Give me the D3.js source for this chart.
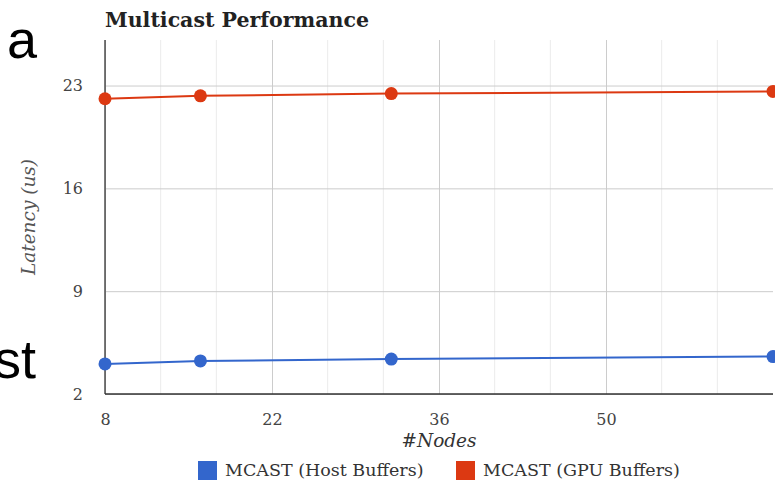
<!DOCTYPE html>
<html>
<head>
<meta charset="utf-8">
<script src="https://cdn.jsdelivr.net/npm/d3@7"></script>
<style>
  body { margin: 0; background: #fff; }
  .chart-font { font-family: "DejaVu Serif", Georgia, serif; }
  .slide-text { font-family: "Liberation Sans", Arial, sans-serif; }
</style>
</head>
<body>
<div id="chart"></div>
<script>
// data
var nodes = [8, 16, 32, 64];
var hostLatency = [4.05, 4.25, 4.38, 4.55];
var gpuLatency = [22.1, 22.3, 22.45, 22.6];
var seriesNames = ["MCAST (Host Buffers)", "MCAST (GPU Buffers)"];
var seriesColors = ["#3366cc", "#dc3912"];
var xTicks = [8, 22, 36, 50];
var yTicks = [2, 9, 16, 23];

var W = 775, H = 480;
var margin = {
    top: 40,
    bottom: 86,
    right: 2,
    left: 105
};
var width = W - margin.left - margin.right;
var height = H - margin.top - margin.bottom;

var svg = d3.select('#chart')
    .append('svg')
    .attr('width', W)
    .attr('height', H);

var g = svg.append('g')
    .attr('class', 'chart-font')
    .attr('transform', 'translate(' + margin.left + ',' + margin.top + ')');

var x = d3.scaleLinear().domain([8, 64]).range([0, width]);
var y = d3.scaleLinear().domain([2, 26.1]).range([height, 0]);

// minor vertical gridlines (thirds between the labelled ticks)
var minor = [];
xTicks.concat([64]).forEach(function(t, i) {
    if (i == 0) return;
    var prev = xTicks[i - 1];
    minor.push(prev + (t - prev) / 3, prev + 2 * (t - prev) / 3);
});

g.selectAll('.minor')
    .data(minor)
    .enter().append('line')
    .attr('class', 'minor')
    .attr('x1', function(d) { return x(d); })
    .attr('x2', function(d) { return x(d); })
    .attr('y1', 0)
    .attr('y2', height)
    .attr('stroke', '#ebebeb')
    .attr('stroke-width', 1);

// major gridlines
var xAxis = d3.axisBottom(x).tickValues(xTicks).tickSize(-height).tickFormat(d3.format('d'));
var yAxis = d3.axisLeft(y).tickValues(yTicks).tickSize(-width).tickFormat(d3.format('d'));

var gx = g.append('g')
    .attr('class', 'x axis')
    .attr('transform', 'translate(0,' + height + ')')
    .call(xAxis);
gx.select('.domain').remove();
gx.selectAll('line').attr('stroke', '#cccccc');
gx.selectAll('text')
    .attr('y', 20)
    .attr('fill', '#444')
    .style('font-size', '16px')
    .style('font-family', '"DejaVu Serif", Georgia, serif');

var gy = g.append('g')
    .attr('class', 'y axis')
    .call(yAxis);
gy.select('.domain').remove();
gy.selectAll('line').attr('stroke', '#cccccc');
gy.selectAll('text')
    .attr('x', -22)
    .attr('fill', '#444')
    .style('font-size', '16px')
    .style('font-family', '"DejaVu Serif", Georgia, serif');

// axis baselines
g.append('line')
    .attr('x1', 0).attr('x2', 0)
    .attr('y1', 0).attr('y2', height)
    .attr('stroke', '#333').attr('stroke-width', 1.3);
g.append('line')
    .attr('x1', 0).attr('x2', width)
    .attr('y1', height).attr('y2', height)
    .attr('stroke', '#333').attr('stroke-width', 1.3);

// series
var series = [hostLatency, gpuLatency];
var line = d3.line()
    .x(function(d, i) { return x(nodes[i]); })
    .y(function(d) { return y(d); });

series.forEach(function(vals, s) {
    g.append('path')
        .datum(vals)
        .attr('d', line)
        .attr('fill', 'none')
        .attr('stroke', seriesColors[s])
        .attr('stroke-width', 2);
    g.selectAll('.dot' + s)
        .data(vals)
        .enter().append('circle')
        .attr('class', 'dot' + s)
        .attr('cx', function(d, i) { return x(nodes[i]); })
        .attr('cy', function(d) { return y(d); })
        .attr('r', 6.5)
        .attr('fill', seriesColors[s]);
});

// title
svg.append('text')
    .attr('class', 'chart-font')
    .attr('x', 105)
    .attr('y', 27)
    .attr('font-weight', 'bold')
    .attr('fill', '#222')
    .style('font-size', '20.5px')
    .text('Multicast Performance');

// axis titles
svg.append('text')
    .attr('class', 'chart-font')
    .attr('x', margin.left + width / 2)
    .attr('y', 447)
    .attr('text-anchor', 'middle')
    .attr('font-style', 'italic')
    .attr('fill', '#333')
    .style('font-size', '18.5px')
    .text('#Nodes');

svg.append('text')
    .attr('class', 'chart-font')
    .attr('transform', 'translate(35,' + (margin.top + height / 2) + ') rotate(-90)')
    .attr('text-anchor', 'middle')
    .attr('font-style', 'italic')
    .attr('fill', '#555')
    .style('font-size', '18.5px')
    .text('Latency (us)');

// legend
var legendX = [198, 456];
var legend = svg.selectAll('.legend')
    .data(seriesNames)
    .enter().append('g')
    .attr('class', 'legend chart-font')
    .attr('transform', function(d, i) { return 'translate(' + legendX[i] + ',461)'; });

legend.append('rect')
    .attr('width', 19)
    .attr('height', 19)
    .attr('fill', function(d, i) { return seriesColors[i]; });

legend.append('text')
    .attr('x', 27)
    .attr('y', 15)
    .attr('fill', '#333')
    .style('font-size', '17.5px')
    .text(function(d) { return d; });

// fragments of the surrounding slide text
svg.append('text')
    .attr('class', 'slide-text')
    .attr('x', 7)
    .attr('y', 58)
    .style('font-size', '54px')
    .text('a');
svg.append('text')
    .attr('class', 'slide-text')
    .attr('x', 36)
    .attr('y', 378)
    .attr('text-anchor', 'end')
    .style('font-size', '54px')
    .text('st');
</script>
</body>
</html>
